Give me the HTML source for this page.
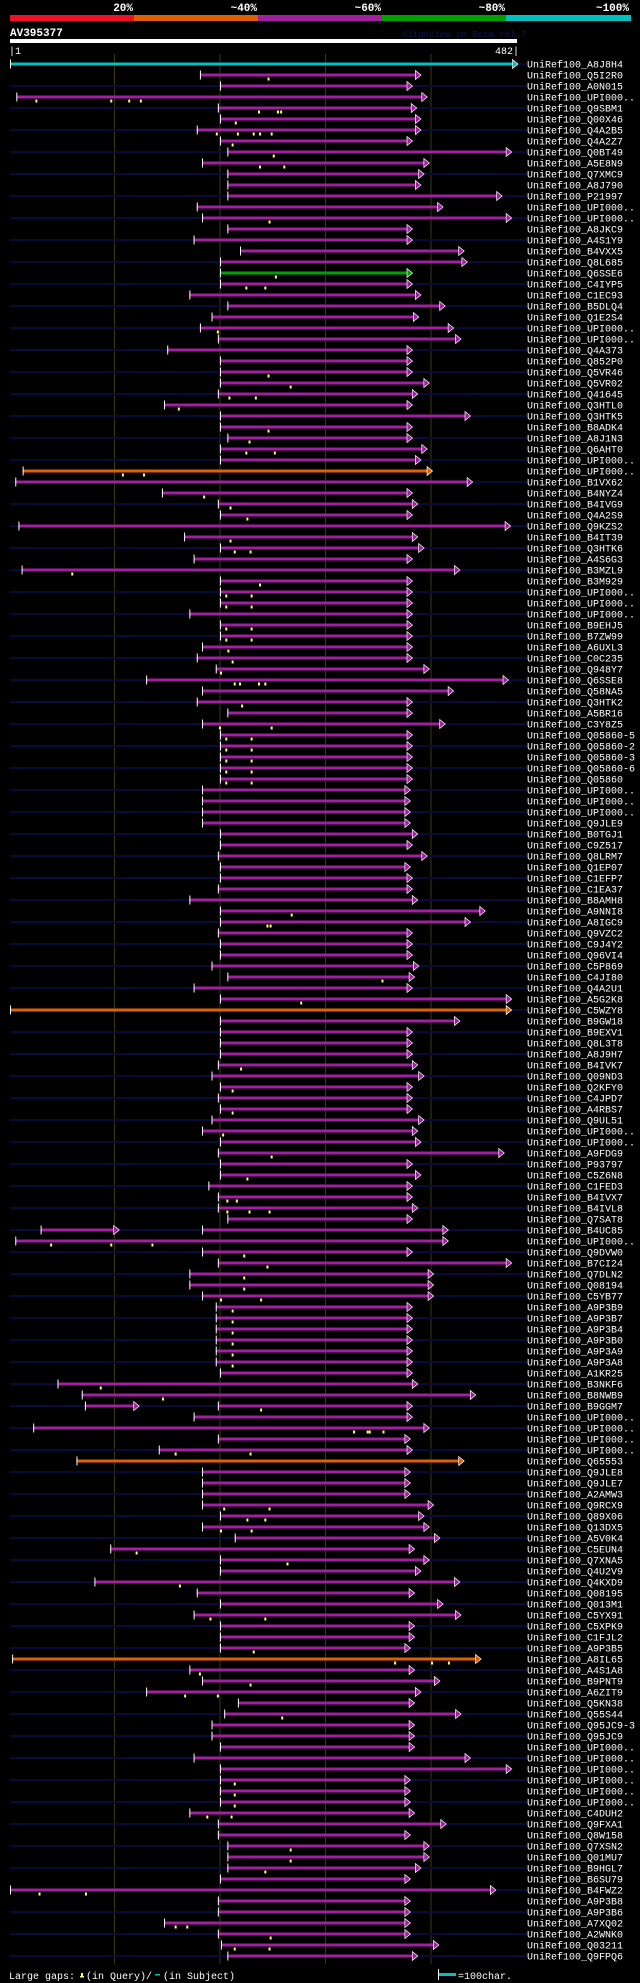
<!DOCTYPE html>
<html><head><meta charset="utf-8"><style>
html,body{margin:0;padding:0;background:#000;}
svg{display:block;}
text{font-family:"Liberation Mono",monospace;}
</style></head><body>
<svg id="chart" width="640" height="1983" viewBox="0 0 640 1983">
<rect x="0" y="0" width="640" height="1983" fill="#000"/>
<g>
<text x="133" y="11" fill="#fff" font-size="11" font-weight="bold" text-anchor="end">20%</text>
<text x="257" y="11" fill="#fff" font-size="11" font-weight="bold" text-anchor="end">~40%</text>
<text x="381" y="11" fill="#fff" font-size="11" font-weight="bold" text-anchor="end">~60%</text>
<text x="505" y="11" fill="#fff" font-size="11" font-weight="bold" text-anchor="end">~80%</text>
<text x="629" y="11" fill="#fff" font-size="11" font-weight="bold" text-anchor="end">~100%</text>
<rect x="10" y="15" width="124" height="6" fill="#f0102a"/>
<rect x="134" y="15" width="124" height="6" fill="#e06000"/>
<rect x="258" y="15" width="124" height="6" fill="#a020a0"/>
<rect x="382" y="15" width="124" height="6" fill="#00a000"/>
<rect x="506" y="15" width="125" height="6" fill="#00c0c0"/>
</g>
<text x="10" y="36" fill="#fff" font-size="11" font-weight="bold">AV395377</text>
<text x="402" y="37" fill="#141450" font-size="9">AlignView.pm Beta rel.7</text>
<rect x="10" y="39" width="507" height="4" fill="#fff"/>
<text x="9" y="54" fill="#fff" font-size="10">|1</text>
<text x="519" y="54" fill="#fff" font-size="10" text-anchor="end">482|</text>
<g id="grid"></g>
<g id="rows"></g>
<g>
<text x="9" y="1979" fill="#fff" font-size="10">Large gaps:</text>
<rect x="81" y="1973" width="2" height="4" fill="#ffff66"/>
<rect x="80" y="1976" width="4" height="1.5" fill="#ffff66"/>
<text x="86" y="1979" fill="#fff" font-size="10">(in Query)/</text>
<rect x="155" y="1974" width="5" height="1.5" fill="#00c0c0"/>
<text x="163" y="1979" fill="#fff" font-size="10">(in Subject)</text>
<rect x="438" y="1969" width="1" height="11" fill="#fff"/>
<rect x="439" y="1973" width="17" height="3" fill="#00c0c0"/>
<text x="458" y="1979" fill="#fff" font-size="10">=100char.</text>
</g>
</svg>
<script>
const names=["A8J8H4","Q5I2R0","A0N015","U","Q9SBM1","Q00X46","Q4A2B5","Q4A2Z7","Q0BT49","A5E8N9","Q7XMC9","A8J790","P21997","U","U","A8JKC9","A4S1Y9","B4VXX5","Q8L685","Q6SSE6","C4IYP5","C1EC93","B5DLQ4","Q1E2S4","U","U","Q4A373","Q852P0","Q5VR46","Q5VR02","Q41645","Q3HTL0","Q3HTK5","B8ADK4","A8J1N3","Q6AHT0","U","U","B1VX62","B4NYZ4","B4IVG9","Q4A2S9","Q9KZS2","B4IT39","Q3HTK6","A4S6G3","B3MZL9","B3M929","U","U","U","B9EHJ5","B7ZW99","A6UXL3","C0C235","Q948Y7","Q6SSE8","Q58NA5","Q3HTK2","A5BR16","C3Y8Z5","Q05860-5","Q05860-2","Q05860-3","Q05860-6","Q05860","U","U","U","Q9JLE9","B0TGJ1","C9Z517","Q8LRM7","Q1EP07","C1EFP7","C1EA37","B8AMH8","A9NNI8","A8IGC9","Q9VZC2","C9J4Y2","Q96VI4","C5P869","C4JI80","Q4A2U1","A5G2K8","C5WZY8","B9GW18","B9EXV1","Q8L3T8","A8J9H7","B4IVK7","Q09ND3","Q2KFY0","C4JPD7","A4RBS7","Q9UL51","U","U","A9FDG9","P93797","C5Z6N8","C1FED3","B4IVX7","B4IVL8","Q7SAT8","B4UC85","U","Q9DVW0","B7CI24","Q7DLN2","Q08194","C5YB77","A9P3B9","A9P3B7","A9P3B4","A9P3B0","A9P3A9","A9P3A8","A1KR25","B3NKF6","B8NWB9","B9GGM7","U","U","U","U","Q65553","Q9JLE8","Q9JLE7","A2AMW3","Q9RCX9","Q89X06","Q13DX5","A5V0K4","C5EUN4","Q7XNA5","Q4U2V9","Q4KXD9","Q08195","Q013M1","C5YX91","C5XPK9","C1FJL2","A9P3B5","A8IL65","A4S1A8","B9PNT9","A6ZIT9","Q5KN38","Q55S44","Q95JC9-3","Q95JC9","U","U","U","U","U","U","C4DUH2","Q9FXA1","Q8W158","Q7XSN2","Q01MU7","B9HGL7","B6SU79","B4FWZ2","A9P3B8","A9P3B6","A7XQ02","A2WNK0","Q03211","Q9FPQ6"];
const starts=[1,181,200,7,198,200,178,200,207,183,207,207,207,178,183,207,175,219,200,200,200,171,207,192,181,198,150,200,200,200,198,147,200,200,207,200,200,13,6,145,198,200,9,166,200,175,12,200,200,200,171,200,200,183,178,196,130,183,178,207,183,200,200,200,200,200,183,183,183,183,200,200,198,200,200,198,171,200,200,198,200,200,192,207,175,200,1,200,200,200,200,198,192,200,198,200,192,183,200,198,200,200,189,198,198,207,183,6,183,198,171,171,183,196,196,196,196,196,196,200,46,69,198,175,23,198,142,64,183,183,183,183,200,183,214,96,200,200,81,178,200,175,200,200,200,3,171,183,130,217,204,192,192,200,175,200,200,200,200,171,198,198,207,207,207,200,1,198,198,147,198,201,207];
const ends=[482,390,382,396,386,390,390,382,476,398,393,390,467,411,476,382,382,431,434,382,382,390,413,388,421,428,382,382,382,398,387,382,437,382,382,396,390,401,439,382,387,382,475,387,393,382,427,382,382,382,382,382,382,382,382,398,473,421,382,382,413,382,382,382,382,382,380,380,380,380,387,382,396,380,382,382,387,451,437,382,382,382,388,384,382,476,476,427,382,382,382,387,393,382,382,382,393,387,390,469,382,390,382,382,387,382,416,416,382,476,402,402,402,382,382,382,382,382,382,382,387,442,382,382,398,380,382,431,380,380,380,402,393,398,408,384,398,390,427,384,411,428,384,384,380,447,384,408,390,384,428,384,384,384,437,476,380,380,380,384,414,380,398,398,390,380,461,380,380,380,380,407,387];
const cyanRows=[0];
const greenRows=[19];
const orangeRows=[37,86,127,145];
const markers=[[],[246],[],[26,97,114,125],[237,255,258],[215],[197,217,232,238,249],[212],[251],[238,261],[],[],[],[],[247],[],[],[],[],[253],[225,243],[],[],[],[198],[],[],[],[246],[267],[209,234],[161],[],[246],[228],[225,252],[],[108,128],[],[185],[210],[226],[],[210],[214,229],[],[60],[238],[206,230],[206,230],[],[206,230],[206,230],[208],[212],[201],[214,219,237,243],[],[221],[],[200,249],[206,230],[206,230],[206,230],[206,230],[206,230],[],[],[],[],[],[],[],[],[],[],[],[268],[245,248],[],[],[],[],[354],[],[277],[],[],[],[],[],[220],[],[212],[],[212],[],[203],[],[249],[],[226],[],[207,216],[207,228,247],[],[],[40,97,136],[223],[245],[223],[223],[201,239],[212],[212],[212],[212],[212],[212],[],[87],[146],[239],[],[327,340,342,355],[],[158,229],[],[],[],[],[204,247],[226,243],[201,230],[],[121],[264],[],[162],[],[],[191,243],[],[],[232],[366,401,417],[181],[229],[167,198],[],[259],[],[],[],[],[],[214],[214],[214],[188,211],[],[],[267],[267],[243],[],[29,73],[],[],[158,169],[248],[214,247],[]];
const extraRows=[106,122];
const extraStarts=[30,72];
const extraEnds=[104,123];
const gridTicks=[100,200,300,400];

const NS="http://www.w3.org/2000/svg";
const qLen=482, x0=10, x1=517.5;
function xScale(p){return x0+(p-1)*(x1-x0)/(qLen-1);}
function yRow(i){return 64+i*11;}
function rowColor(i){
  if(cyanRows.includes(i))return "#00c0c0";
  if(greenRows.includes(i))return "#00a000";
  if(orangeRows.includes(i))return "#e06000";
  return "#a020a0";
}
function mk(tag,attrs,parent){const e=document.createElementNS(NS,tag);for(const k in attrs)e.setAttribute(k,attrs[k]);parent.appendChild(e);return e;}
const grid=document.getElementById('grid');
gridTicks.forEach(t=>{
  const l=mk('line',{x1:xScale(t),x2:xScale(t),y1:54,y2:1964,stroke:"#3a3a12","stroke-width":1},grid);
  
  
});
const rows=document.getElementById('rows');
function drawBar(g,s,e,y,col){
  const xs=xScale(s), xe=xScale(e);
  mk('rect',{x:xs,y:y-1.5,width:Math.max(0,xe-4-xs),height:3,fill:col},g);
  mk('rect',{x:xs,y:y-4.5,width:1,height:9,fill:"#fff"},g);
  mk('polygon',{points:`${xe-5},${y-4.5} ${xe+0.5},${y} ${xe-5},${y+4.5}`,fill:col,stroke:"#fff","stroke-width":0.7},g);
}
names.forEach((n,i)=>{
  const y=yRow(i);
  const g=mk('g',{},rows);
  
  
  if(i%2===0){mk('rect',{x:10,y:y-1,width:517,height:2,fill:"#0a0a3a"},g);}
  const col=rowColor(i);
  drawBar(g,starts[i],ends[i],y,col);
  const ei=extraRows.indexOf(i);
  if(ei>=0)drawBar(g,extraStarts[ei],extraEnds[ei],y,col);
  (markers[i]||[]).forEach(m=>{
    const mm=mk('rect',{x:xScale(m)-1,y:y+2.5,width:2,height:3,fill:"#ffff66"},g);
    
    
  });
  const t=mk('text',{x:527,y:y+3.5,fill:"#fff","font-size":10},g);
  
  
  t.textContent="UniRef100_"+(n==="U"?"UPI000..":n);
});
</script>
</body></html>
